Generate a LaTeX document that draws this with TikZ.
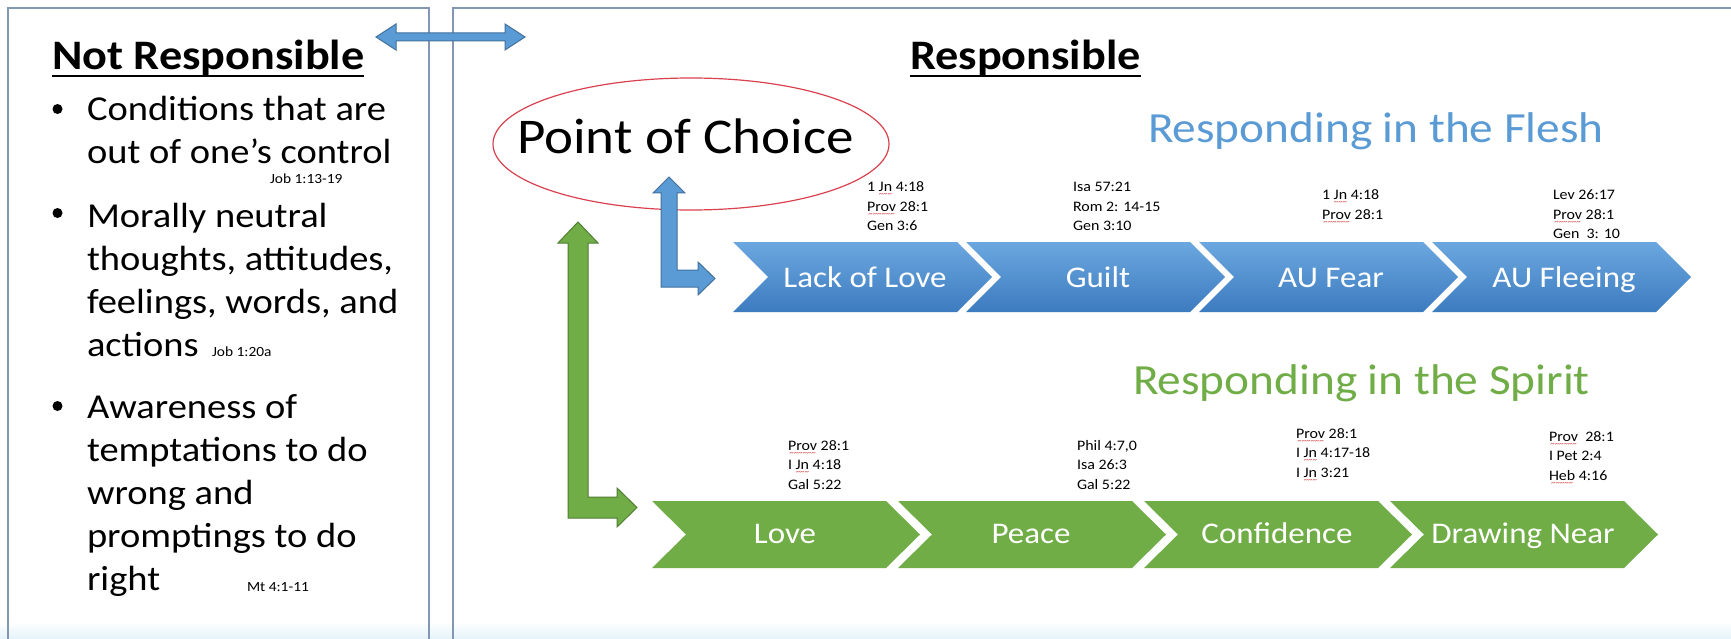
\documentclass[tikz,border=0pt]{standalone}
\usepackage{fontspec}
\setmainfont{Carlito}[FakeStretch=1.1]
\usetikzlibrary{shapes.geometric}
\definecolor{bxc}{HTML}{8197B3}
\definecolor{bfill}{HTML}{5B9BD5}
\definecolor{bline}{HTML}{41719C}
\definecolor{btop}{HTML}{6BA7DF}
\definecolor{bbot}{HTML}{3D7BC0}
\definecolor{gfill}{HTML}{70AD47}
\definecolor{gline}{HTML}{507E32}
\definecolor{ftitle}{HTML}{5B9BD5}
\definecolor{stitle}{HTML}{70AD47}
\definecolor{sqred}{HTML}{D03030}
\definecolor{ellred}{HTML}{D9414F}
\definecolor{botband}{HTML}{E4F3FA}
\newcommand\sq[1]{\setbox0\hbox{#1}\leavevmode\rlap{\textcolor{sqred}{\lower5pt\hbox to\wd0{\cleaders\hbox{\fontsize{8}{8}\selectfont\char"7E}\hfil}}}\box0\relax}
\newcommand\stk[1]{\begin{tabular}[t]{@{}l@{}}#1\end{tabular}}
\begin{document}
\begin{tikzpicture}[x=1pt,y=-1pt,
  every node/.style={inner sep=0pt, outer sep=0pt},
  panel/.style={draw=bxc, line width=1.2pt},
  head/.style={font=\fontsize{42}{48}\selectfont\bfseries, anchor=base west},
  bullettext/.style={font=\fontsize{35}{43}\selectfont, anchor=base west},
  smallref/.style={font=\fontsize{14}{17}\selectfont, anchor=base west},
  refs/.style={font=\fontsize{14.5}{19.5}\selectfont, anchor=base west},
  bluearrow/.style={fill=bfill, draw=bline, line width=1pt},
  greenarrow/.style={fill=gfill, draw=gline, line width=1pt},
  bluechev/.style={top color=btop, bottom color=bbot, draw=none},
  greenchev/.style={fill=gfill, draw=none},
  chevtext/.style={font=\fontsize{30}{36}\selectfont, text=white, anchor=base},
  title/.style={font=\fontsize{43}{50}\selectfont, anchor=base west},
  dot/.style={circle, fill=black, minimum size=10pt}
]
\useasboundingbox (0,0) rectangle (1731,639);
\fill[white] (0,0) rectangle (1731,639);
\clip (0,0) rectangle (1731,639);
\shade[top color=white, bottom color=botband] (0,622) rectangle (1731,639);
\draw[panel] (8,8) rectangle (429,650);
\draw[panel] (453,8) rectangle (1745,650);

% headings
\node[head] (nr) at (52,70) {Not Responsible};
\draw[line width=2.5pt] ([yshift=-6pt]nr.base west) -- ([yshift=-6pt]nr.base east);
\node[head] (rs) at (910,70) {Responsible};
\draw[line width=2.5pt] ([yshift=-6pt]rs.base west) -- ([yshift=-6pt]rs.base east);

% double arrow between the panels
\coordinate (dl) at (376,37);
\coordinate (dr) at (525,37);
\filldraw[bluearrow] (dl) -- (396,24) -- (396,33) -- (505,33) -- (505,24) -- (dr) -- (505,50) -- (505,41) -- (396,41) -- (396,50) -- cycle;

% left panel
\node[dot] (d1) at (57.5,109) {};
\node[dot] (d2) at (57.5,213) {};
\node[dot] (d3) at (57.5,406) {};
\node[bullettext] (t1) at (87,121) {\stk{Conditions that are\\out of one’s control}};
\node[smallref] (j1) at (270,184) {Job 1:13-19};
\node[bullettext] (t2) at (87,227) {\stk{Morally neutral\\thoughts, attitudes,\\feelings, words, and\\actions}};
\node[smallref] (j2) at (212,356) {Job 1:20a};
\node[bullettext] (t3) at (87,418) {\stk{Awareness of\\temptations to do\\wrong and\\promptings to do\\right}};
\node[smallref] (j3) at (247,591) {Mt 4:1-11};

% point of choice
\node[ellipse, draw=ellred, line width=1.2pt, minimum width=396pt, minimum height=132pt] (poc) at (691,144) {};
\node[font=\fontsize{50}{60}\selectfont, anchor=base west] (poct) at (517,154) {Point of Choice};

% titles
\node[title, text=ftitle] (flesh) at (1148,143) {Responding in the Flesh};
\node[title, text=stitle] (spirit) at (1133,394) {Responding in the Spirit};

% blue chevrons
\foreach \i/\t in {0/Lack of Love,1/Guilt,2/AU Fear,3/AU Fleeing}{
  \pgfmathsetmacro\L{733+233*\i}
  \shade[bluechev] (\L,242) -- ++(224,0) -- ++(35,35) -- ++(-35,35) -- ++(-224,0) -- ++(35,-35) -- cycle;
  \node[chevtext] (b\i) at (\L+132,287) {\t};
}
% green chevrons
\foreach \i/\t in {0/Love,1/Peace,2/Confidence,3/Drawing Near}{
  \pgfmathsetmacro\L{652+246*\i}
  \fill[greenchev] (\L,501) -- ++(234,0) -- ++(34,33.5) -- ++(-34,33.5) -- ++(-234,0) -- ++(34,-33.5) -- cycle;
  \node[chevtext] (g\i) at (\L+133,543) {\t};
}

% elbow arrows
\coordinate (bu) at (669,177);
\coordinate (br) at (715,278.5);
\filldraw[bluearrow] (bu) -- (685,193) -- (677,193) -- (677,270) -- (698,270) -- (698,262) -- (br) -- (698,295) -- (698,287) -- (661,287) -- (661,193) -- (653,193) -- cycle;
\coordinate (gu) at (578,222);
\coordinate (gr) at (637,507.5);
\filldraw[greenarrow] (gu) -- (598,243) -- (588,243) -- (588,497) -- (617,497) -- (617,488) -- (gr) -- (617,527) -- (617,518) -- (568,518) -- (568,243) -- (558,243) -- cycle;

% scripture references
\node[refs] (rb0) at (867,192) {\stk{1 \sq{Jn} 4:18\\\sq{Prov} 28:1\\Gen 3:6}};
\node[refs] (rb1) at (1073,192) {\stk{Isa 57:21\\Rom 2: 14-15\\Gen 3:10}};
\node[refs] (rb2) at (1322,200) {\stk{1 \sq{Jn} 4:18\\\sq{Prov} 28:1}};
\node[refs] (rb3) at (1553,200) {\stk{Lev 26:17\\\sq{Prov} 28:1\\Gen~~3: 10}};
\node[refs] (rg0) at (788,450) {\stk{\sq{Prov} 28:1\\I \sq{Jn} 4:18\\Gal 5:22}};
\node[refs] (rg1) at (1077,450) {\stk{Phil 4:7,0\\Isa 26:3\\Gal 5:22}};
\node[refs] (rg2) at (1296,438) {\stk{\sq{Prov} 28:1\\I \sq{Jn} 4:17-18\\I \sq{Jn} 3:21}};
\node[refs] (rg3) at (1549,441) {\stk{\sq{Prov}~~28:1\\I Pet 2:4\\\sq{Heb} 4:16}};
\end{tikzpicture}
\end{document}
